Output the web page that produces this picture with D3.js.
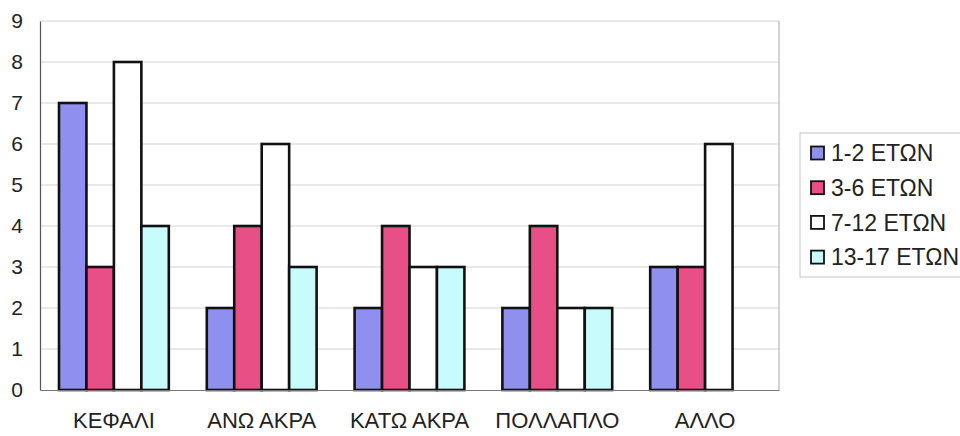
<!DOCTYPE html>
<html>
<head>
<meta charset="utf-8">
<script src="https://cdn.jsdelivr.net/npm/d3@7"></script>
<style>
  html, body { margin: 0; padding: 0; background: #ffffff; }
  svg { display: block; }
  text { font-family: "Liberation Sans", Arial, sans-serif; fill: #222; }
</style>
</head>
<body>
<svg id="chart" width="960" height="436"></svg>
<script>
// Injury location by age group
const categories = ["ΚΕΦΑΛΙ", "ΑΝΩ ΑΚΡΑ", "ΚΑΤΩ ΑΚΡΑ", "ΠΟΛΛΑΠΛΟ", "ΑΛΛΟ"];
const seriesNames = ["1-2 ΕΤΩΝ", "3-6 ΕΤΩΝ", "7-12 ΕΤΩΝ", "13-17 ΕΤΩΝ"];
const age1to2 = [7, 2, 2, 2, 3];
const age3to6 = [3, 4, 4, 4, 3];
const age7to12 = [8, 6, 3, 2, 6];
const age13to17 = [4, 3, 3, 2, 0];
const yTicks = [0, 1, 2, 3, 4, 5, 6, 7, 8, 9];

const seriesValues = [age1to2, age3to6, age7to12, age13to17];
const colors = ["#8f8ff0", "#e84f86", "#ffffff", "#c8fbfb"];

const svg = d3.select("#chart");
const plot = { left: 40, right: 779, top: 21, bottom: 390 };

const x0 = d3.scaleBand()
  .domain(categories)
  .range([plot.left, plot.right])
  .paddingInner(0.257)
  .paddingOuter(0.1285);

const x1 = d3.scaleBand()
  .domain(seriesNames)
  .range([0, x0.bandwidth()]);

const y = d3.scaleLinear()
  .domain([0, 9])
  .range([plot.bottom, plot.top]);

// gridlines
svg.append("g")
  .selectAll("line")
  .data(yTicks.filter(d => d > 0))
  .join("line")
  .attr("x1", plot.left)
  .attr("x2", plot.right)
  .attr("y1", d => y(d))
  .attr("y2", d => y(d))
  .attr("stroke", "#d4d4d4")
  .attr("stroke-width", 1.2);

// right border of the plot area
svg.append("line")
  .attr("x1", plot.right).attr("x2", plot.right)
  .attr("y1", plot.top).attr("y2", plot.bottom)
  .attr("stroke", "#b8b8b8").attr("stroke-width", 1.2);

// bars
const groups = svg.append("g")
  .selectAll("g")
  .data(categories)
  .join("g")
  .attr("transform", d => `translate(${x0(d)},0)`);

groups.selectAll("rect")
  .data((c, ci) => seriesNames.map((s, si) => ({ s, si, v: seriesValues[si][ci] })))
  .join("rect")
  .attr("x", d => x1(d.s))
  .attr("width", x1.bandwidth())
  .attr("y", d => y(d.v))
  .attr("height", d => y(0) - y(d.v))
  .attr("fill", d => colors[d.si])
  .attr("stroke", "#111")
  .attr("stroke-width", 2.6);

// y axis
const yAxis = d3.axisLeft(y).tickValues(yTicks).tickSize(0).tickPadding(17);
const gy = svg.append("g")
  .attr("transform", `translate(${plot.left},0)`)
  .call(yAxis);
gy.select(".domain").attr("stroke", "#555").attr("stroke-width", 1.2);
gy.selectAll("text")
  .style("font-size", "21px")
  .attr("fill", "#222");

// x axis
const xAxis = d3.axisBottom(x0).tickSize(0).tickPadding(22);
const gx = svg.append("g")
  .attr("transform", `translate(0,${plot.bottom})`)
  .call(xAxis);
gx.select(".domain").attr("stroke", "#777").attr("stroke-width", 1.2);
gx.selectAll("text")
  .style("font-size", "22px")
  .attr("fill", "#222");

// legend
const legend = svg.append("g").attr("transform", "translate(800,133)");
legend.append("rect")
  .attr("x", 0).attr("y", 0)
  .attr("width", 170).attr("height", 144)
  .attr("fill", "#ffffff")
  .attr("stroke", "#c4c4c4")
  .attr("stroke-width", 1);

const items = legend.selectAll("g.item")
  .data(seriesNames)
  .join("g")
  .attr("class", "item")
  .attr("transform", (d, i) => `translate(11,${20 + i * 34.7})`);

items.append("rect")
  .attr("x", 0).attr("y", -6.5)
  .attr("width", 13).attr("height", 13)
  .attr("fill", (d, i) => colors[i])
  .attr("stroke", "#111")
  .attr("stroke-width", 1.8);

items.append("text")
  .attr("x", 20)
  .attr("y", 0)
  .attr("dy", "0.36em")
  .style("font-size", "23px")
  .text(d => d);
</script>
</body>
</html>
